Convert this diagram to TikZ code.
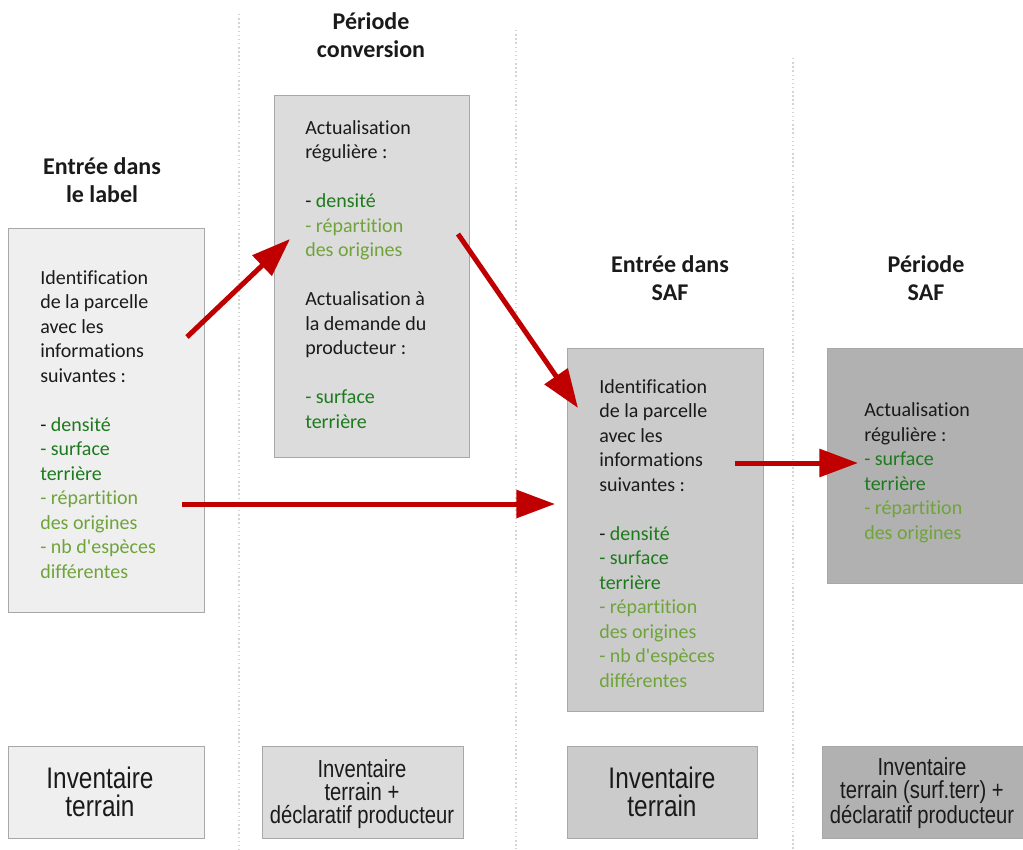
\documentclass[tikz,border=0pt]{standalone}
\usepackage{fontspec}
\setmainfont{Carlito}[Ligatures={TeXOff,NoCommon}]
\newfontfamily\narrowfont[FakeStretch=0.82]{Liberation Sans}
\usetikzlibrary{arrows.meta,fit}
\definecolor{dgreen}{HTML}{1E7A1E}
\definecolor{lgreen}{HTML}{6FA43A}
\definecolor{txtblack}{HTML}{1A1A1A}
\definecolor{arrred}{HTML}{C00000}
\definecolor{fillA}{HTML}{EFEFEF}
\definecolor{fillB}{HTML}{DCDCDC}
\definecolor{fillC}{HTML}{CBCBCB}
\definecolor{fillD}{HTML}{B1B1B1}
\definecolor{boxline}{HTML}{A8A8A8}
\definecolor{sepline}{HTML}{D4D4D4}
\begin{document}
\begin{tikzpicture}[x=0.75pt,y=-0.75pt,
  box/.style={draw=boxline,line width=0.75pt,inner sep=0pt,rectangle},
  header/.style={align=center,anchor=base,inner sep=0pt,text=txtblack,font=\fontsize{18}{21}\selectfont\bfseries},
  bodytxt/.style={align=left,anchor=base west,inner sep=0pt,text=txtblack,font=\fontsize{15}{18.375}\selectfont},
  invbig/.style={align=center,anchor=base,inner sep=0pt,text=txtblack,font=\narrowfont\fontsize{22.3}{20.5}\selectfont},
  invsmall/.style={align=center,anchor=base,inner sep=0pt,text=txtblack,font=\narrowfont\fontsize{18.5}{17.1}\selectfont},
  sep/.style={draw=sepline,line width=1.1pt,dotted},
  redarrow/.style={draw=arrred,line width=3.75pt,-{Triangle[length=29pt,width=20.5pt]}}
]
\useasboundingbox (0,0) rectangle (1023,849);
% separators
\draw[sep] (239,14) -- (239,849);
\draw[sep] (516,30) -- (516,849);
\draw[sep] (793,58) -- (793,849);
% headers (anchor = baseline of last line)
\node[header] (h1) at (102,202) {Entrée dans\\le label};
\node[header] (h2) at (371,58) {Période\\conversion};
\node[header] (h3) at (670,300) {Entrée dans\\SAF};
\node[header] (h4) at (926,300) {Période\\SAF};
% main boxes
\node[box,fill=fillA,fit={(8,228) (204,612)}] (b1) {};
\node[box,fill=fillB,fit={(274,95) (469,457)}] (b2) {};
\node[box,fill=fillC,fit={(567,348) (763,711)}] (b3) {};
\node[box,fill=fillD,fit={(827,348) (1024,583)}] (b4) {};
% box texts (anchor = baseline of last line)
\node[bodytxt] (t1) at (40,578) {Identification\\de la parcelle\\avec les\\informations\\suivantes :\\[18.375pt]- \textcolor{dgreen}{densité}\\\textcolor{dgreen}{- surface}\\\textcolor{dgreen}{terrière}\\\textcolor{lgreen}{- répartition}\\\textcolor{lgreen}{des origines}\\\textcolor{lgreen}{- nb d'espèces}\\\textcolor{lgreen}{différentes}};
\node[bodytxt] (t2) at (305,428) {Actualisation\\régulière :\\[18.375pt]- \textcolor{dgreen}{densité}\\\textcolor{lgreen}{- répartition}\\\textcolor{lgreen}{des origines}\\[18.375pt]Actualisation à\\la demande du\\producteur :\\[18.375pt]\textcolor{dgreen}{- surface}\\\textcolor{dgreen}{terrière}};
\node[bodytxt] (t3) at (599,687) {Identification\\de la parcelle\\avec les\\informations\\suivantes :\\[18.375pt]- \textcolor{dgreen}{densité}\\\textcolor{dgreen}{- surface}\\\textcolor{dgreen}{terrière}\\\textcolor{lgreen}{- répartition}\\\textcolor{lgreen}{des origines}\\\textcolor{lgreen}{- nb d'espèces}\\\textcolor{lgreen}{différentes}};
\node[bodytxt] (t4) at (864,539) {Actualisation\\régulière :\\\textcolor{dgreen}{- surface}\\\textcolor{dgreen}{terrière}\\\textcolor{lgreen}{- répartition}\\\textcolor{lgreen}{des origines}};
% bottom boxes
\node[box,fill=fillA,fit={(8,746) (204,838)}] (i1) {};
\node[box,fill=fillB,fit={(262,746) (463,838)}] (i2) {};
\node[box,fill=fillC,fit={(567,746) (757,838)}] (i3) {};
\node[box,fill=fillD,fit={(822,746) (1024,838)}] (i4) {};
\node[invbig] (it1) at (100,816) {Inventaire\\terrain};
\node[invsmall] (it2) at (362,823) {Inventaire\\terrain +\\déclaratif producteur};
\node[invbig] (it3) at (662,816) {Inventaire\\terrain};
\node[invsmall] (it4) at (922,823) {Inventaire\\terrain (surf.terr) +\\déclaratif producteur};
% arrows
\coordinate (a1s) at (187,337);
\coordinate (a1e) at (290,239);
\coordinate (a2s) at (458,234);
\coordinate (a2e) at (578,408);
\coordinate (a3s) at (182,504);
\coordinate (a3e) at (555,504);
\coordinate (a4s) at (735,463);
\coordinate (a4e) at (858,463);
\draw[redarrow] (a1s) -- (a1e);
\draw[redarrow] (a2s) -- (a2e);
\draw[redarrow] (a3s) -- (a3e);
\draw[redarrow] (a4s) -- (a4e);
\end{tikzpicture}
\end{document}
